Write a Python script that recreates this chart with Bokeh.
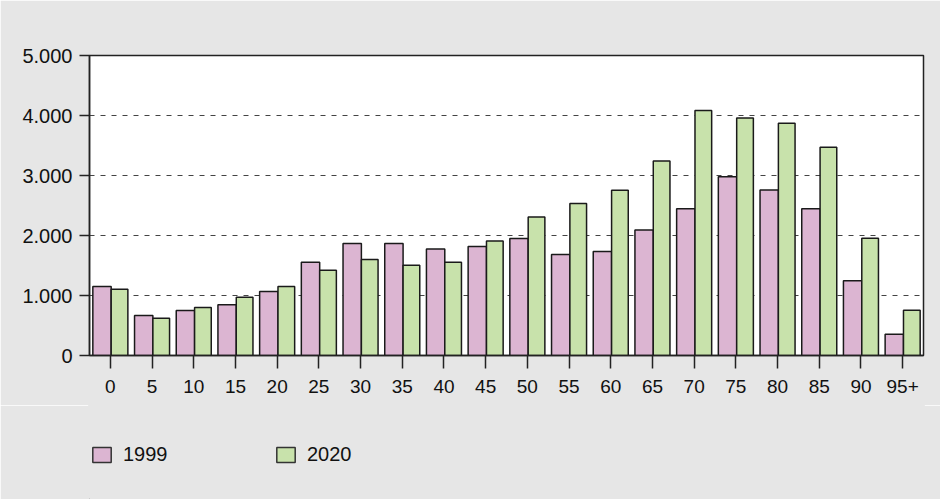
from bokeh.plotting import figure
from bokeh.layouts import column
from bokeh.models import (ColumnDataSource, FactorRange, Range1d, FixedTicker,
                          Legend, LegendItem)
from bokeh.transform import dodge
from bokeh.embed import file_html
from bokeh.resources import INLINE

# ---- data ----
ages = ["0", "5", "10", "15", "20", "25", "30", "35", "40", "45",
        "50", "55", "60", "65", "70", "75", "80", "85", "90", "95+"]
values_1999 = [1150, 665, 750, 845, 1065, 1555, 1865, 1865, 1775, 1815,
               1950, 1685, 1735, 2090, 2445, 2980, 2760, 2445, 1245, 355]
values_2020 = [1105, 620, 800, 970, 1150, 1420, 1600, 1505, 1555, 1910,
               2310, 2535, 2755, 3240, 4085, 3960, 3870, 3470, 1955, 755]
series_names = ["1999", "2020"]
y_ticks = [0, 1000, 2000, 3000, 4000, 5000]
y_tick_labels = ["0", "1.000", "2.000", "3.000", "4.000", "5.000"]

src = ColumnDataSource(dict(age=ages, v1999=values_1999, v2020=values_2020))

BG = "#e6e6e6"
PINK = "#dcb5d2"
GREEN = "#c8e2ab"
EDGE = "#1a1a1a"

p = figure(width=940, height=405, output_backend="svg", toolbar_location=None,
           x_range=FactorRange(factors=ages, range_padding=0),
           y_range=Range1d(0, 5000),
           min_border_left=89, min_border_right=17,
           min_border_top=55, min_border_bottom=50)

p.border_fill_color = BG
p.background_fill_color = "white"
p.outline_line_color = "#222222"
p.outline_line_width = 1.5

p.vbar(x=dodge("age", -0.2, range=p.x_range), top="v1999", width=0.44,
       source=src, fill_color=PINK, line_color=EDGE, line_width=1.5)
p.vbar(x=dodge("age", 0.22, range=p.x_range), top="v2020", width=0.40,
       source=src, fill_color=GREEN, line_color=EDGE, line_width=1.5)

# grid
p.xgrid.visible = False
p.ygrid.ticker = FixedTicker(ticks=y_ticks[1:-1])
p.ygrid.grid_line_color = "#444444"
p.ygrid.grid_line_dash = "5 6"
p.ygrid.grid_line_width = 1.2

# y axis
p.yaxis.ticker = FixedTicker(ticks=y_ticks)
p.yaxis.major_label_overrides = {t: l for t, l in zip(y_ticks, y_tick_labels)}
p.yaxis.major_label_text_font = "Liberation Sans"
p.yaxis.major_label_text_font_size = "20px"
p.yaxis.major_label_text_color = "#111111"
p.yaxis.major_tick_out = 10
p.yaxis.major_tick_in = 0
p.yaxis.minor_tick_line_color = None
p.yaxis.major_label_standoff = 7
p.yaxis.axis_line_color = "#222222"
p.yaxis.axis_line_width = 1.5
p.yaxis.major_tick_line_color = "#222222"
p.yaxis.major_tick_line_width = 1.5

# x axis
p.xaxis.major_label_text_font = "Liberation Sans"
p.xaxis.major_label_text_font_size = "19px"
p.xaxis.major_label_text_color = "#111111"
p.xaxis.major_tick_out = 13
p.xaxis.major_tick_in = 0
p.xaxis.major_label_standoff = 11
p.xaxis.axis_line_color = "#222222"
p.xaxis.axis_line_width = 1.5
p.xaxis.major_tick_line_color = "#222222"
p.xaxis.major_tick_line_width = 1.5

# ---- legend strip below the chart ----
leg = figure(width=940, height=94, output_backend="svg", toolbar_location=None,
             x_range=Range1d(0, 1), y_range=Range1d(0, 1),
             x_axis_location=None, y_axis_location=None,
             min_border=0)
leg.border_fill_color = BG
leg.background_fill_color = BG
leg.outline_line_color = BG
leg.outline_line_width = 3
leg.grid.visible = False
# swatch renderers for the legend (placed outside the visible range)
swatch = ColumnDataSource(dict(x=[-5], top=[-5]))
d1 = leg.vbar(x="x", top="top", width=0.1, source=swatch,
              fill_color=PINK, line_color="#333333", line_width=1.5)
d2 = leg.vbar(x="x", top="top", width=0.1, source=swatch,
              fill_color=GREEN, line_color="#333333", line_width=1.5)
legend = Legend(items=[LegendItem(label=series_names[0], renderers=[d1]),
                       LegendItem(label=series_names[1], renderers=[d2])],
                location=(1, 33), orientation="horizontal",
                glyph_width=23, glyph_height=19, label_standoff=10,
                label_width=151, spacing=0, padding=0, margin=0,
                label_text_font="Liberation Sans", label_text_font_size="20px",
                label_text_color="#111111",
                background_fill_alpha=0, border_line_color=None)
leg.add_layout(legend, "center")

layout = column(p, leg, spacing=0)
open("out.html", "w").write(file_html(layout, INLINE))
